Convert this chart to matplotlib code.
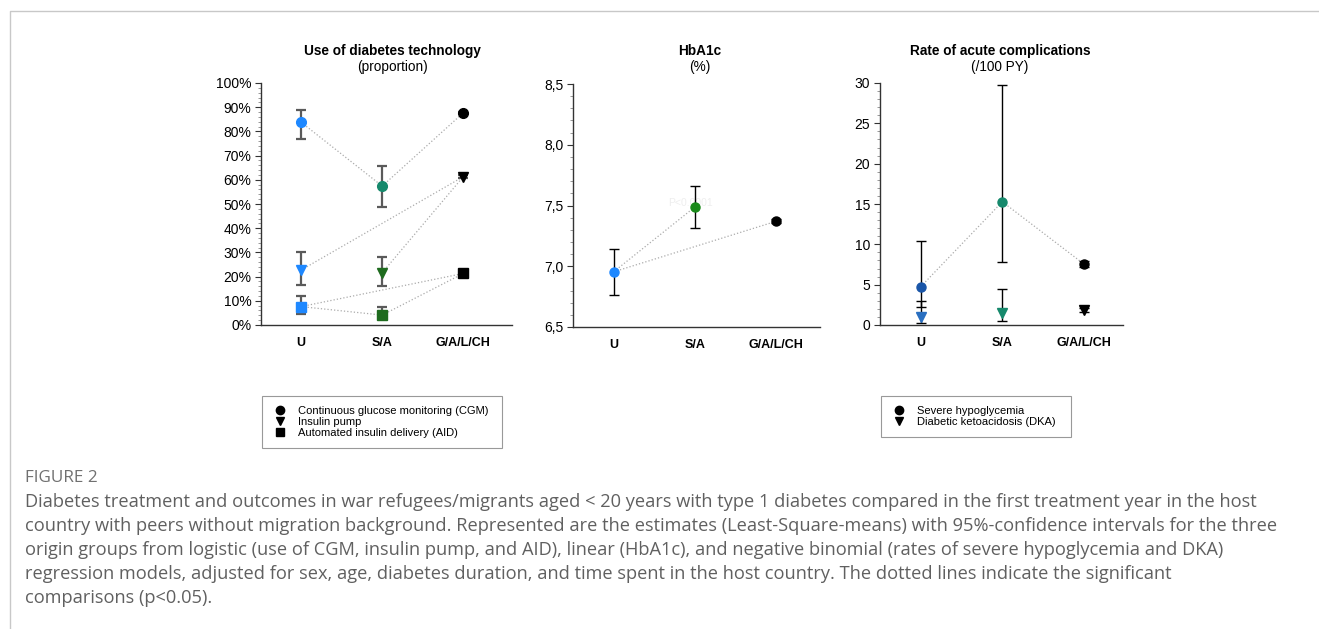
import matplotlib
matplotlib.use('Agg')
import matplotlib.pyplot as plt
from matplotlib.lines import Line2D
from matplotlib.ticker import MultipleLocator, FuncFormatter

plt.rcParams['font.family'] = ['Liberation Sans', 'DejaVu Sans']

groups = ['U', 'S/A', 'G/A/L/CH']

# panel 1: use of diabetes technology (proportion)
cgm = [0.838, 0.574, 0.877]
cgm_lo = [0.767, 0.486, 0.874]
cgm_hi = [0.887, 0.657, 0.880]
pump = [0.227, 0.216, 0.613]
pump_lo = [0.165, 0.161, 0.609]
pump_hi = [0.302, 0.281, 0.618]
aid = [0.076, 0.041, 0.213]
aid_lo = [0.045, 0.026, 0.210]
aid_hi = [0.121, 0.073, 0.216]

# panel 2: HbA1c (%)
hba1c = [6.954, 7.488, 7.370]
hba1c_lo = [6.767, 7.314, 7.355]
hba1c_hi = [7.139, 7.658, 7.385]

# panel 3: rates /100 PY
hypo = [4.75, 15.28, 7.56]
hypo_lo = [2.19, 7.84, 7.25]
hypo_hi = [10.36, 29.8, 7.9]
dka = [0.95, 1.44, 1.85]
dka_lo = [0.25, 0.53, 1.65]
dka_hi = [2.93, 4.41, 2.05]

# significant comparisons (index pairs)
cgm_sig = [(0, 1), (1, 2)]
pump_sig = [(0, 2), (1, 2)]
aid_sig = [(0, 1), (0, 2), (1, 2)]
hba1c_sig = [(0, 1), (0, 2)]
hypo_sig = [(0, 1), (1, 2)]
dka_sig = []

W, H = 1319, 629
fig = plt.figure(figsize=(W / 100, H / 100), dpi=100)

BLUE = '#1e88ff'
TEAL = '#16896c'
DGREEN = '#1e6b1e'
GREEN = '#1a8a1a'
NAVY = '#1a56a8'


def add_ax(l, r, t, b):
    ax = fig.add_axes([l / W, 1 - b / H, (r - l) / W, (b - t) / H])
    for s in ['top', 'right']:
        ax.spines[s].set_visible(False)
    for s in ['left', 'bottom']:
        ax.spines[s].set_color('#333333')
        ax.spines[s].set_linewidth(1)
    ax.set_xticks(range(3))
    ax.set_xticklabels(groups, fontsize=9, fontweight='bold')
    ax.tick_params(axis='x', length=0, pad=9)
    ax.tick_params(axis='y', which='major', length=4, labelsize=10, color='#333333', pad=3)
    ax.tick_params(axis='y', which='minor', length=2, color='#888888')
    return ax


def draw_series(ax, vals, lo, hi, colors, marker, ms, sig, ecolor='black', elw=1.0):
    for a, b in sig:
        ax.plot([a, b], [vals[a], vals[b]], ls=':', color='#ababab', lw=0.9, zorder=1)
    for i in range(3):
        ax.errorbar(i, vals[i], yerr=[[vals[i] - lo[i]], [hi[i] - vals[i]]],
                    fmt='none', ecolor=ecolor, elinewidth=elw, capsize=3.6, capthick=elw, zorder=2)
        ax.plot(i, vals[i], marker=marker, ms=ms, color=colors[i], mec=colors[i], ls='none', zorder=3)


# Panel 1
ax1 = add_ax(261, 512, 83, 325)
ax1.set_xlim(-0.494, 2.6)
ax1.set_ylim(0, 1)
ax1.yaxis.set_major_locator(MultipleLocator(0.1))
ax1.yaxis.set_minor_locator(MultipleLocator(0.02))
ax1.yaxis.set_major_formatter(FuncFormatter(lambda v, p: f'{v * 100:.0f}%'))
draw_series(ax1, cgm, cgm_lo, cgm_hi, [BLUE, TEAL, 'black'], 'o', 7, cgm_sig, '#5a5a5a', 1.6)
draw_series(ax1, pump, pump_lo, pump_hi, [BLUE, DGREEN, 'black'], 'v', 7, pump_sig, '#5a5a5a', 1.6)
draw_series(ax1, aid, aid_lo, aid_hi, [BLUE, DGREEN, 'black'], 's', 6.5, aid_sig, '#5a5a5a', 1.6)

# Panel 2
ax2 = add_ax(573, 820, 84, 327)
ax2.set_xlim(-0.5, 2.54)
ax2.set_ylim(6.5, 8.5)
ax2.yaxis.set_major_locator(MultipleLocator(0.5))
ax2.yaxis.set_minor_locator(MultipleLocator(0.1))
ax2.yaxis.set_major_formatter(FuncFormatter(lambda v, p: f'{v:.1f}'.replace('.', ',')))
draw_series(ax2, hba1c, hba1c_lo, hba1c_hi, [BLUE, GREEN, 'black'], 'o', 6.5, hba1c_sig)
ax2.text(0.95, 7.52, 'P<0.0001', fontsize=7.5, color='#eeeeee', ha='center', va='center', zorder=0)

# Panel 3
ax3 = add_ax(880, 1123, 83, 325)
ax3.set_xlim(-0.5, 2.48)
ax3.set_ylim(0, 30)
ax3.yaxis.set_major_locator(MultipleLocator(5))
ax3.yaxis.set_minor_locator(MultipleLocator(1))
draw_series(ax3, hypo, hypo_lo, hypo_hi, [NAVY, TEAL, 'black'], 'o', 6.5, hypo_sig)
draw_series(ax3, dka, dka_lo, dka_hi, ['#2a6fc0', TEAL, 'black'], 'v', 6.5, dka_sig)

# titles
for x, t1, t2 in [(392, 'Use of diabetes technology', '(proportion)'),
                  (700, 'HbA1c', '(%)'),
                  (1000, 'Rate of acute complications', '(/100 PY)')]:
    fig.text(x / W, 1 - 51 / H, t1, ha='center', va='center', fontsize=9.8, fontweight='bold')
    fig.text(x / W, 1 - 67 / H, t2, ha='center', va='center', fontsize=9.8)

# legends
def mk(m, ms):
    return Line2D([], [], marker=m, color='black', ls='none', ms=ms)

leg_kw = dict(loc='upper left', mode='expand', fontsize=8, frameon=True, fancybox=False,
              edgecolor='#808080', labelspacing=0.1, handletextpad=0.8, borderpad=0.9,
              handlelength=1.5, borderaxespad=0)
leg1 = fig.legend([mk('o', 6), mk('v', 6), mk('s', 5.5)],
                  ['Continuous glucose monitoring (CGM)', 'Insulin pump', 'Automated insulin delivery (AID)'],
                  bbox_to_anchor=(262 / W, 1 - 396 / H, 240 / W, 0), **leg_kw)
leg1.get_frame().set_linewidth(0.8)
leg2 = fig.legend([mk('o', 6), mk('v', 6)],
                  ['Severe hypoglycemia', 'Diabetic ketoacidosis (DKA)'],
                  bbox_to_anchor=(881 / W, 1 - 396 / H, 190 / W, 0), **leg_kw)
leg2.get_frame().set_linewidth(0.8)

# page border
fig.add_artist(Line2D([10 / W, 10 / W, 1], [0, 1 - 11 / H, 1 - 11 / H], color='#c8c8c8', lw=1))

# caption
fig.text(25 / W, 1 - 478 / H, 'FIGURE 2', fontsize=12.3, color='#707070', va='center',
         family=['Open Sans', 'DejaVu Sans'])
caption = [
    'Diabetes treatment and outcomes in war refugees/migrants aged < 20 years with type 1 diabetes compared in the first treatment year in the host',
    'country with peers without migration background. Represented are the estimates (Least-Square-means) with 95%-confidence intervals for the three',
    'origin groups from logistic (use of CGM, insulin pump, and AID), linear (HbA1c), and negative binomial (rates of severe hypoglycemia and DKA)',
    'regression models, adjusted for sex, age, diabetes duration, and time spent in the host country. The dotted lines indicate the significant',
    'comparisons (p<0.05).',
]
for k, line in enumerate(caption):
    fig.text(25 / W, 1 - (502 + 24 * k) / H, line, fontsize=13.15, color='#606060', va='center',
             family=['Open Sans', 'DejaVu Sans'])

fig.savefig('out.png', dpi=100)
